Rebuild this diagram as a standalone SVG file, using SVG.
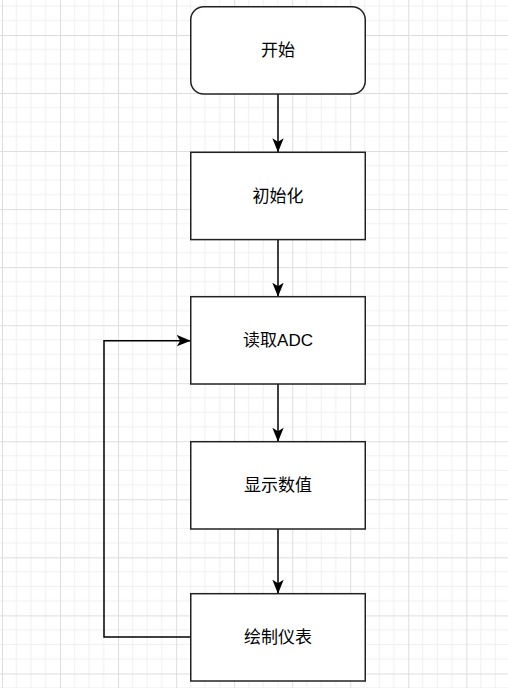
<svg xmlns="http://www.w3.org/2000/svg" width="508" height="688" viewBox="0 0 508 688">
  <defs>
    <pattern id="grid" patternUnits="userSpaceOnUse" x="2" y="35" width="58.04" height="58.04">
      <g stroke="#efefef" stroke-width="1">
        <line x1="14.51" y1="0" x2="14.51" y2="58.04"/>
        <line x1="29.02" y1="0" x2="29.02" y2="58.04"/>
        <line x1="43.53" y1="0" x2="43.53" y2="58.04"/>
        <line x1="0" y1="14.51" x2="58.04" y2="14.51"/>
        <line x1="0" y1="29.02" x2="58.04" y2="29.02"/>
        <line x1="0" y1="43.53" x2="58.04" y2="43.53"/>
      </g>
      <g stroke="#dddddd" stroke-width="1">
        <line x1="0.5" y1="0" x2="0.5" y2="58.04"/>
        <line x1="0" y1="0.5" x2="58.04" y2="0.5"/>
      </g>
    </pattern>
    <marker id="arrow" markerUnits="userSpaceOnUse" markerWidth="16" markerHeight="14" viewBox="0 0 16 14" refX="14" refY="7" orient="auto">
      <path d="M14,7 L0,1.3 L3.5,7 L0,12.7 Z" fill="#000"/>
    </marker>
    <style>
      .box { fill: #ffffff; stroke: #222222; stroke-width: 1.5; }
      .lbl { font-family: "Liberation Sans", "Noto Sans CJK SC", Arial, sans-serif; font-size: 17px; fill: #000000; text-anchor: middle; }
      .edge { fill: none; stroke: #000000; stroke-width: 1.5; }
    </style>
  </defs>
  <rect x="0" y="0" width="508" height="688" fill="#ffffff"/>
  <rect x="0" y="0" width="508" height="688" fill="url(#grid)"/>

  <g id="connectors">
    <path class="edge" d="M278,94 L278,152.3" marker-end="url(#arrow)"/>
    <path class="edge" d="M278,239.5 L278,296.7" marker-end="url(#arrow)"/>
    <path class="edge" d="M278,383.7 L278,441.7" marker-end="url(#arrow)"/>
    <path class="edge" d="M278,529 L278,593.7" marker-end="url(#arrow)"/>
    <path class="edge" d="M190.7,637 L104,637 L104,340.7 L190.7,340.7" marker-end="url(#arrow)"/>
  </g>

  <g id="start">
    <rect class="box" x="190.75" y="6.75" width="174.5" height="87.3" rx="13" ry="13"/>
    <text class="lbl" x="278" y="56.4">开始</text>
  </g>
  <g id="init">
    <rect class="box" x="190.75" y="152.3" width="174.5" height="87.3"/>
    <text class="lbl" x="278" y="202">初始化</text>
  </g>
  <g id="readadc">
    <rect class="box" x="190.75" y="296.7" width="174.5" height="87.3"/>
    <text class="lbl" x="278" y="346.4">读取ADC</text>
  </g>
  <g id="display">
    <rect class="box" x="190.75" y="441.7" width="174.5" height="87.3"/>
    <text class="lbl" x="278" y="491.4">显示数值</text>
  </g>
  <g id="draw">
    <rect class="box" x="190.75" y="593.7" width="174.5" height="87.3"/>
    <text class="lbl" x="278" y="643.4">绘制仪表</text>
  </g>
</svg>
